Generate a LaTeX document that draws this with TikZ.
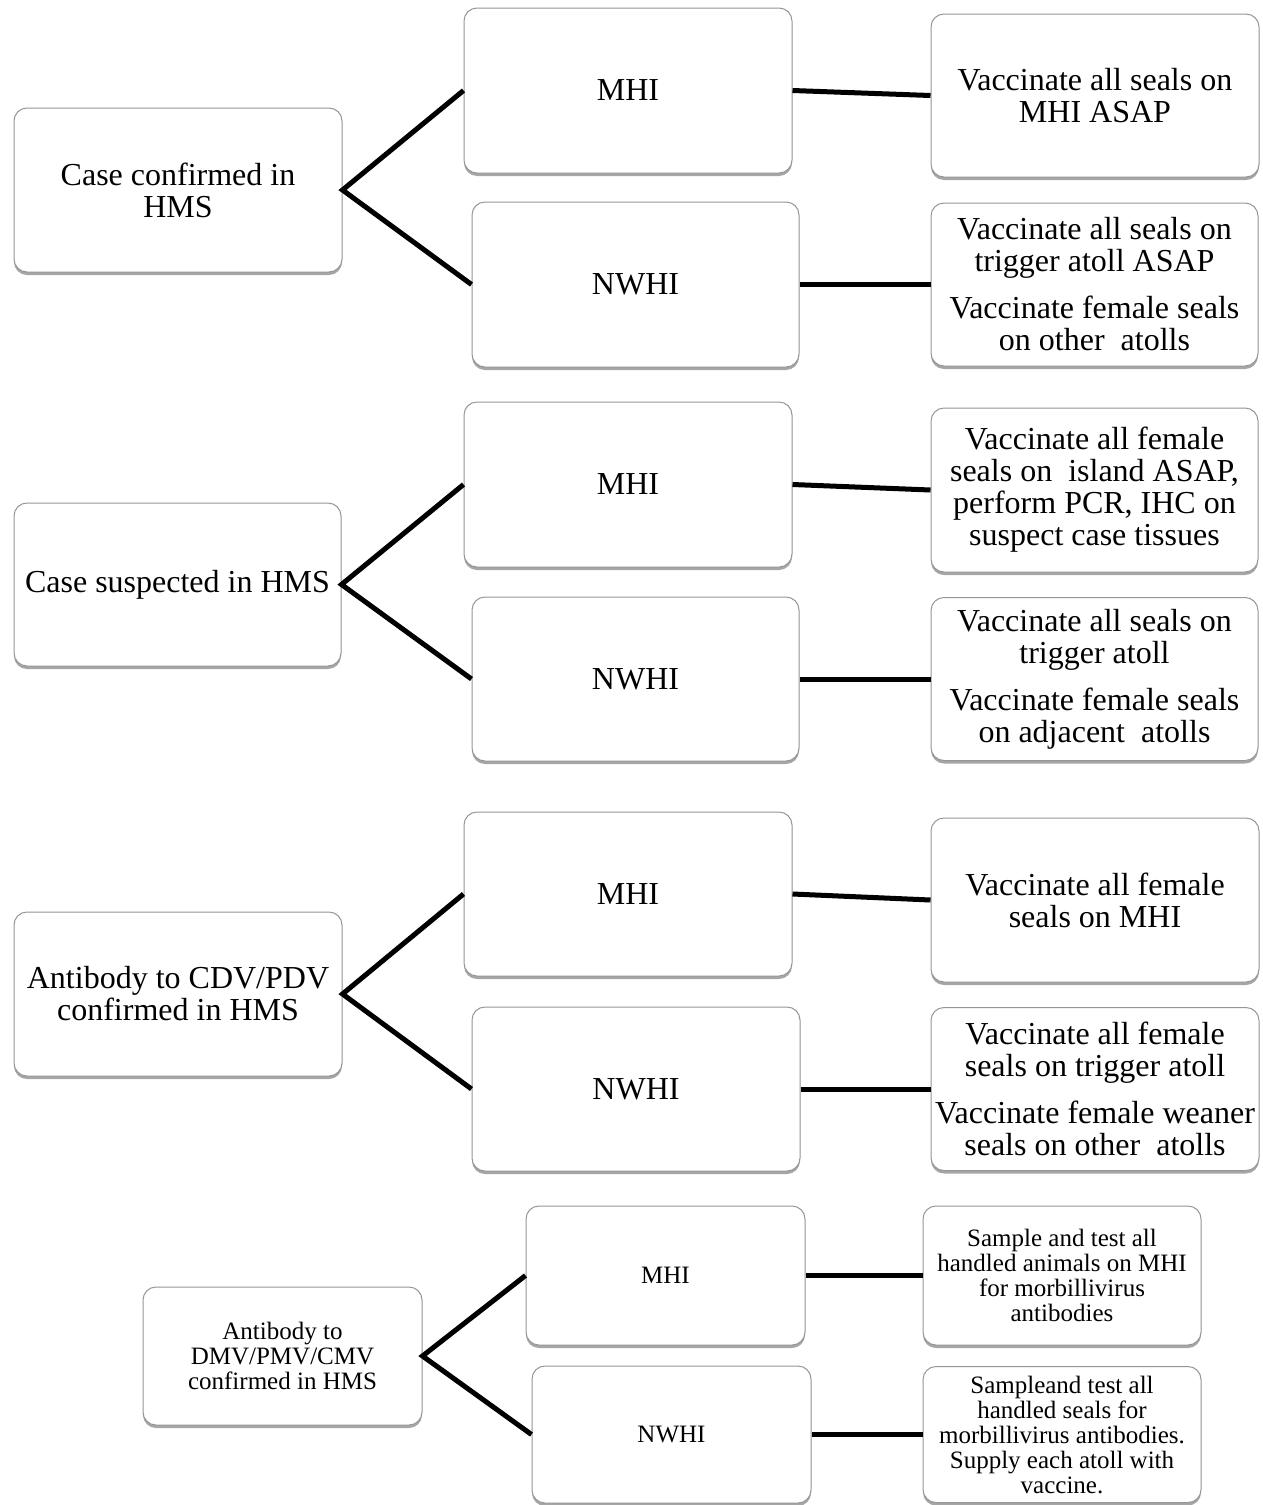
\documentclass[tikz,border=0pt]{standalone}
\usepackage{fontspec}
\setmainfont{Liberation Serif}
\usetikzlibrary{shadows}
\definecolor{boxgray}{RGB}{150,150,150}
\newcommand\fntL{\fontsize{32}{32}\selectfont}
\newcommand\fntS{\fontsize{25}{25}\selectfont}
\tikzset{
  box/.style={draw=boxgray, line width=1pt, rounded corners=13pt, fill=white,
    drop shadow={shadow xshift=0pt, shadow yshift=-3pt, opacity=0.35, fill=black},
    align=center, inner sep=0pt, font=\fntL},
  smallbox/.style={box, font=\fntS},
  link/.style={line width=5pt, line cap=butt}
}
\begin{document}
\begin{tikzpicture}[x=1pt, y=-1pt]
\fill[white] (0,0) rectangle (1263,1505);
\useasboundingbox (0,0) rectangle (1263,1505);

% ---------- group 1 ----------
\node[box, minimum width=328pt, minimum height=164pt] (L1) at (178,190) {Case confirmed in\\HMS};
\node[box, minimum width=328pt, minimum height=165pt] (M1) at (628,90.5) {MHI};
\node[box, minimum width=327pt, minimum height=165pt] (N1) at (635.5,284.5) {NWHI};
\node[box, minimum width=328pt, minimum height=163pt] (A1) at (1095,95.5) {Vaccinate all seals on\\MHI ASAP};
\node[box, minimum width=327pt, minimum height=163pt] (B1) at (1094.5,284.5) {Vaccinate all seals on\\trigger atoll ASAP\\[15pt]Vaccinate female seals\\on other~ atolls};

% ---------- group 2 ----------
\node[box, minimum width=327pt, minimum height=163pt] (L2) at (177.5,584.5) {Case suspected in HMS};
\node[box, minimum width=328pt, minimum height=165pt] (M2) at (628,484.5) {MHI};
\node[box, minimum width=327pt, minimum height=164pt] (N2) at (635.5,679) {NWHI};
\node[box, minimum width=327pt, minimum height=164pt] (A2) at (1094.5,490) {Vaccinate all female\\seals on~ island ASAP,\\perform PCR, IHC on\\suspect case tissues};
\node[box, minimum width=327pt, minimum height=163pt] (B2) at (1094.5,679) {Vaccinate all seals on\\trigger atoll\\[15pt]Vaccinate female seals\\on adjacent~ atolls};

% ---------- group 3 ----------
\node[box, minimum width=328pt, minimum height=164pt] (L3) at (178,994) {Antibody to CDV/PDV\\confirmed in HMS};
\node[box, minimum width=328pt, minimum height=164pt] (M3) at (628,894) {MHI};
\node[box, minimum width=328pt, minimum height=164pt] (N3) at (636,1089) {NWHI};
\node[box, minimum width=328pt, minimum height=164pt] (A3) at (1095,900) {Vaccinate all female\\seals on MHI};
\node[box, minimum width=328pt, minimum height=163pt] (B3) at (1095,1089) {Vaccinate all female\\seals on trigger atoll\\[15pt]Vaccinate female weaner\\seals on other~ atolls};

% ---------- group 4 ----------
\node[smallbox, minimum width=279pt, minimum height=138pt] (L4) at (282.5,1356) {Antibody to\\DMV/PMV/CMV\\confirmed in HMS};
\node[smallbox, minimum width=279pt, minimum height=139pt] (M4) at (665.5,1275.5) {MHI};
\node[smallbox, minimum width=279pt, minimum height=137pt] (N4) at (671.5,1434.5) {NWHI};
\node[smallbox, minimum width=278pt, minimum height=139pt] (A4) at (1062,1275.5) {Sample and test all\\handled animals on MHI\\for morbillivirus\\antibodies};
\node[smallbox, minimum width=278pt, minimum height=136pt] (B4) at (1062,1434.5) {Sampleand test all\\handled seals for\\morbillivirus antibodies.\\Supply each atoll with\\vaccine.};

% ---------- connectors ----------
\foreach \g in {1,2,3,4}{
  \draw[link] (M\g.west) -- (L\g.east) -- (N\g.west);
  \draw[link] (M\g.east) -- (A\g.west);
  \draw[link] (N\g.east) -- (B\g.west);
}
\end{tikzpicture}
\end{document}
